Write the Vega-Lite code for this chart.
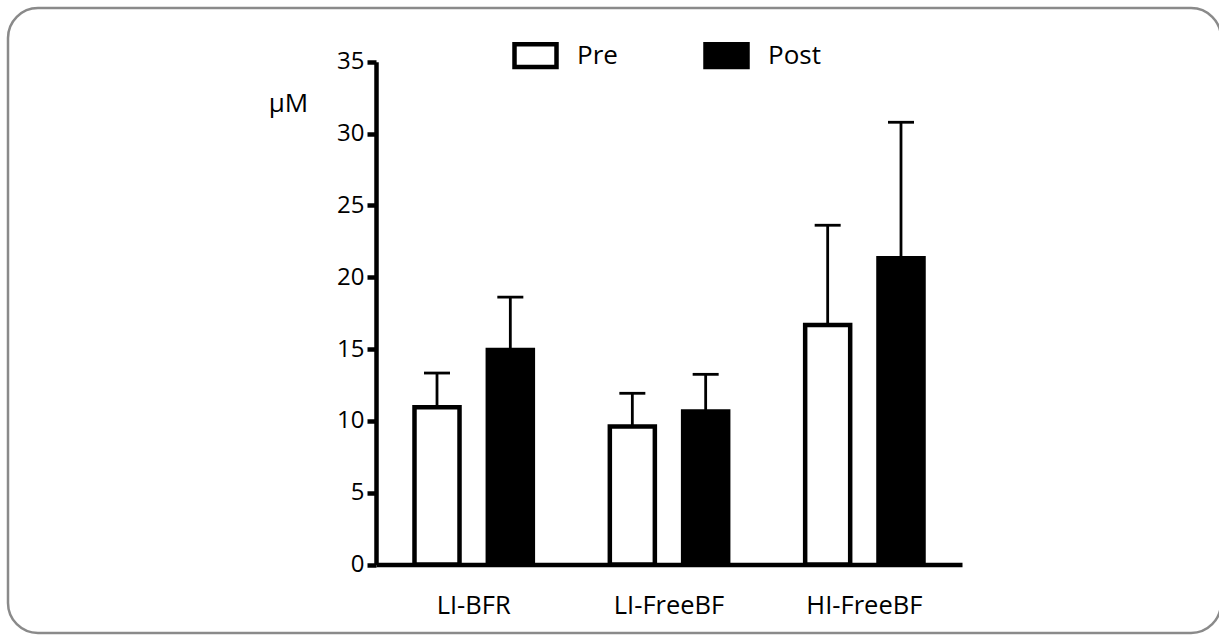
{
  "$schema": "https://vega.github.io/schema/vega-lite/v6.json",
  "autosize": {"type": "none"},
  "padding": {"left": 8, "top": 8, "right": 0, "bottom": 2},
  "width": 1213,
  "height": 625,
  "background": "white",
  "config": {
    "view": {"stroke": "#8a8a8a", "strokeWidth": 2.5, "cornerRadius": 30},
    "font": "Open Sans",
    "axis": {"labelFont": "Open Sans", "titleFont": "Open Sans", "labelColor": "black", "titleColor": "black", "grid": false},
    "legend": {"labelFont": "Open Sans"}
  },
  "data": {
    "values": [
      {"group": "LI-BFR", "cond": "Pre", "mean": 10.95, "upper": 13.33},
      {"group": "LI-BFR", "cond": "Post", "mean": 14.94, "upper": 18.62},
      {"group": "LI-FreeBF", "cond": "Pre", "mean": 9.6, "upper": 11.92},
      {"group": "LI-FreeBF", "cond": "Post", "mean": 10.65, "upper": 13.24},
      {"group": "HI-FreeBF", "cond": "Pre", "mean": 16.68, "upper": 23.62},
      {"group": "HI-FreeBF", "cond": "Post", "mean": 21.32, "upper": 30.79}
    ]
  },
  "encoding": {
    "x": {
      "field": "group",
      "type": "nominal",
      "sort": ["LI-BFR", "LI-FreeBF", "HI-FreeBF"],
      "scale": {"range": [368, 954], "paddingInner": 0, "paddingOuter": 0},
      "axis": {
        "title": null,
        "orient": "bottom",
        "offset": -68.5,
        "domainWidth": 4.5,
        "domainColor": "black",
        "ticks": false,
        "labelFontSize": 25.5,
        "labelPadding": 29,
        "labelAngle": 0
      }
    },
    "xOffset": {
      "field": "cond",
      "type": "nominal",
      "sort": ["Pre", "Post"],
      "scale": {"paddingInner": 0.386, "paddingOuter": 0.525}
    }
  },
  "layer": [
    {
      "mark": {"type": "rule", "strokeWidth": 2.8, "color": "black"},
      "encoding": {
        "y": {
          "field": "mean",
          "type": "quantitative",
          "title": "μM",
          "scale": {"domain": [0, 35], "range": [556.5, 53.8], "nice": false, "zero": true},
          "axis": {
            "title": "μM",
            "orient": "left",
            "offset": -368,
            "values": [0, 5, 10, 15, 20, 25, 30, 35],
            "domainWidth": 4.5,
            "domainColor": "black",
            "tickWidth": 4.5,
            "tickSize": 9,
            "tickColor": "black",
            "labelFontSize": 24,
            "labelPadding": 3,
            "titleAngle": 0,
            "titleFontSize": 26,
            "titleFontWeight": "normal",
            "titleX": -88,
            "titleY": 103.7,
            "titleBaseline": "alphabetic",
            "titleAlign": "center"
          }
        },
        "y2": {"field": "upper"}
      }
    },
    {
      "mark": {"type": "tick", "orient": "horizontal", "size": 26, "thickness": 2.8, "color": "black", "opacity": 1},
      "encoding": {
        "y": {"field": "upper", "type": "quantitative", "title": "μM"}
      }
    },
    {
      "mark": {"type": "bar", "stroke": "black", "strokeWidth": 4.5},
      "encoding": {
        "y": {"field": "mean", "type": "quantitative", "title": "μM"},
        "fill": {
          "field": "cond",
          "type": "nominal",
          "sort": ["Pre", "Post"],
          "scale": {"domain": ["Pre", "Post"], "range": ["white", "black"]},
          "legend": {
            "orient": "none",
            "legendX": 504,
            "legendY": 24,
            "direction": "horizontal",
            "title": null,
            "symbolType": "M-1,-0.536H1V0.536H-1Z",
            "symbolSize": 1764,
            "symbolStrokeColor": "black",
            "symbolStrokeWidth": 4.5,
            "labelFontSize": 26,
            "labelColor": "black",
            "labelOffset": 18,
            "columnPadding": 78,
            "padding": 0,
            "labelLimit": 0
          }
        }
      }
    }
  ]
}
